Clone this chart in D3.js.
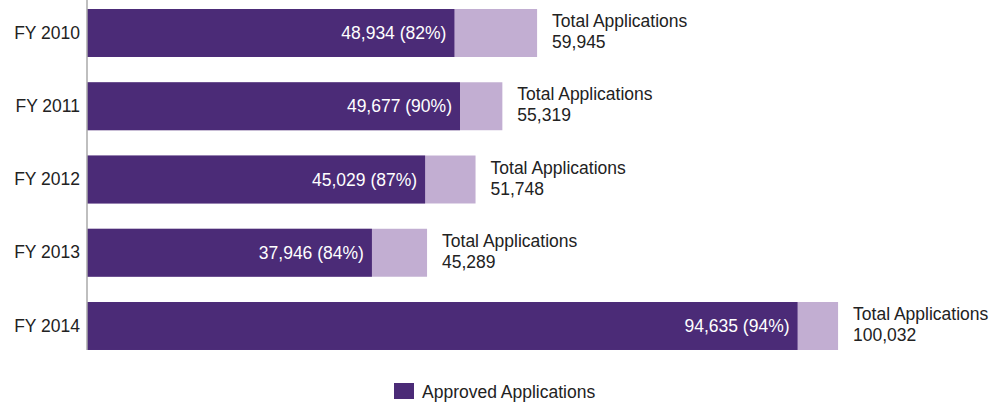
<!DOCTYPE html>
<html>
<head>
<meta charset="utf-8">
<script src="https://cdn.jsdelivr.net/npm/d3@7"></script>
<style>
  body { margin: 0; background: #fff; }
  text { font-family: "Liberation Sans", Arial, sans-serif; }
</style>
</head>
<body>
<svg id="chart"></svg>
<script>
//Data
const years = ["FY 2010", "FY 2011", "FY 2012", "FY 2013", "FY 2014"];
const approved = [48934, 49677, 45029, 37946, 94635];
const approvedPct = [82, 90, 87, 84, 94];
const total = [59945, 55319, 51748, 45289, 100032];

const w = 989;
const h = 402;
const left = 87;
const dark = "#4b2b77";
const light = "#c2aed2";
const fs = "17.5px";
const fmt = d3.format(",");

const svg = d3.select("#chart").attr("width", w).attr("height", h);

//Scales
const xScale = d3.scaleLinear().domain([0, 120000]).range([left, 988]);
const yScale = d3.scaleBand().domain(years).range([0, 359])
                 .paddingInner(0.345).paddingOuter(0.123);

//Bars
const rows = svg.selectAll(".row").data(years).enter().append("g").attr("class", "row");

rows.append("rect")
    .attr("x", xScale(0))
    .attr("y", d => yScale(d))
    .attr("width", (d, i) => xScale(total[i]) - xScale(0))
    .attr("height", yScale.bandwidth())
    .attr("fill", light);

rows.append("rect")
    .attr("x", xScale(0))
    .attr("y", d => yScale(d))
    .attr("width", (d, i) => xScale(approved[i]) - xScale(0))
    .attr("height", yScale.bandwidth())
    .attr("fill", dark);

//Value labels inside bars
rows.append("text")
    .attr("x", (d, i) => xScale(approved[i]) - 8)
    .attr("y", d => yScale(d) + yScale.bandwidth() / 2 + 6)
    .attr("text-anchor", "end")
    .attr("fill", "#fff")
    .style("font-size", fs)
    .text((d, i) => fmt(approved[i]) + " (" + approvedPct[i] + "%)");

//Totals
const tot = rows.append("text")
    .attr("x", (d, i) => xScale(total[i]) + 15)
    .attr("y", d => yScale(d) + yScale.bandwidth() / 2 - 6)
    .attr("fill", "#222")
    .style("font-size", fs);
tot.append("tspan").text("Total Applications");
tot.append("tspan")
   .attr("x", (d, i) => xScale(total[i]) + 15)
   .attr("dy", 21)
   .text((d, i) => fmt(total[i]));

//Axis
const yAxis = d3.axisLeft(yScale).tickSize(0).tickPadding(7);
const gy = svg.append("g").attr("transform", "translate(" + left + ",0)").call(yAxis);
gy.select(".domain").remove();
gy.selectAll("text").style("font-size", fs).attr("fill", "#222")
  .attr("font-family", null);
svg.append("line")
   .attr("x1", left).attr("x2", left)
   .attr("y1", 0).attr("y2", yScale(years[4]) + yScale.bandwidth())
   .attr("stroke", "#aaa").attr("stroke-width", 1.5);

//Legend
svg.append("rect").attr("x", 394).attr("y", 383).attr("width", 20).attr("height", 16).attr("fill", dark);
svg.append("text").attr("x", 422).attr("y", 398).attr("fill", "#222")
   .style("font-size", fs).text("Approved Applications");
</script>
</body>
</html>
